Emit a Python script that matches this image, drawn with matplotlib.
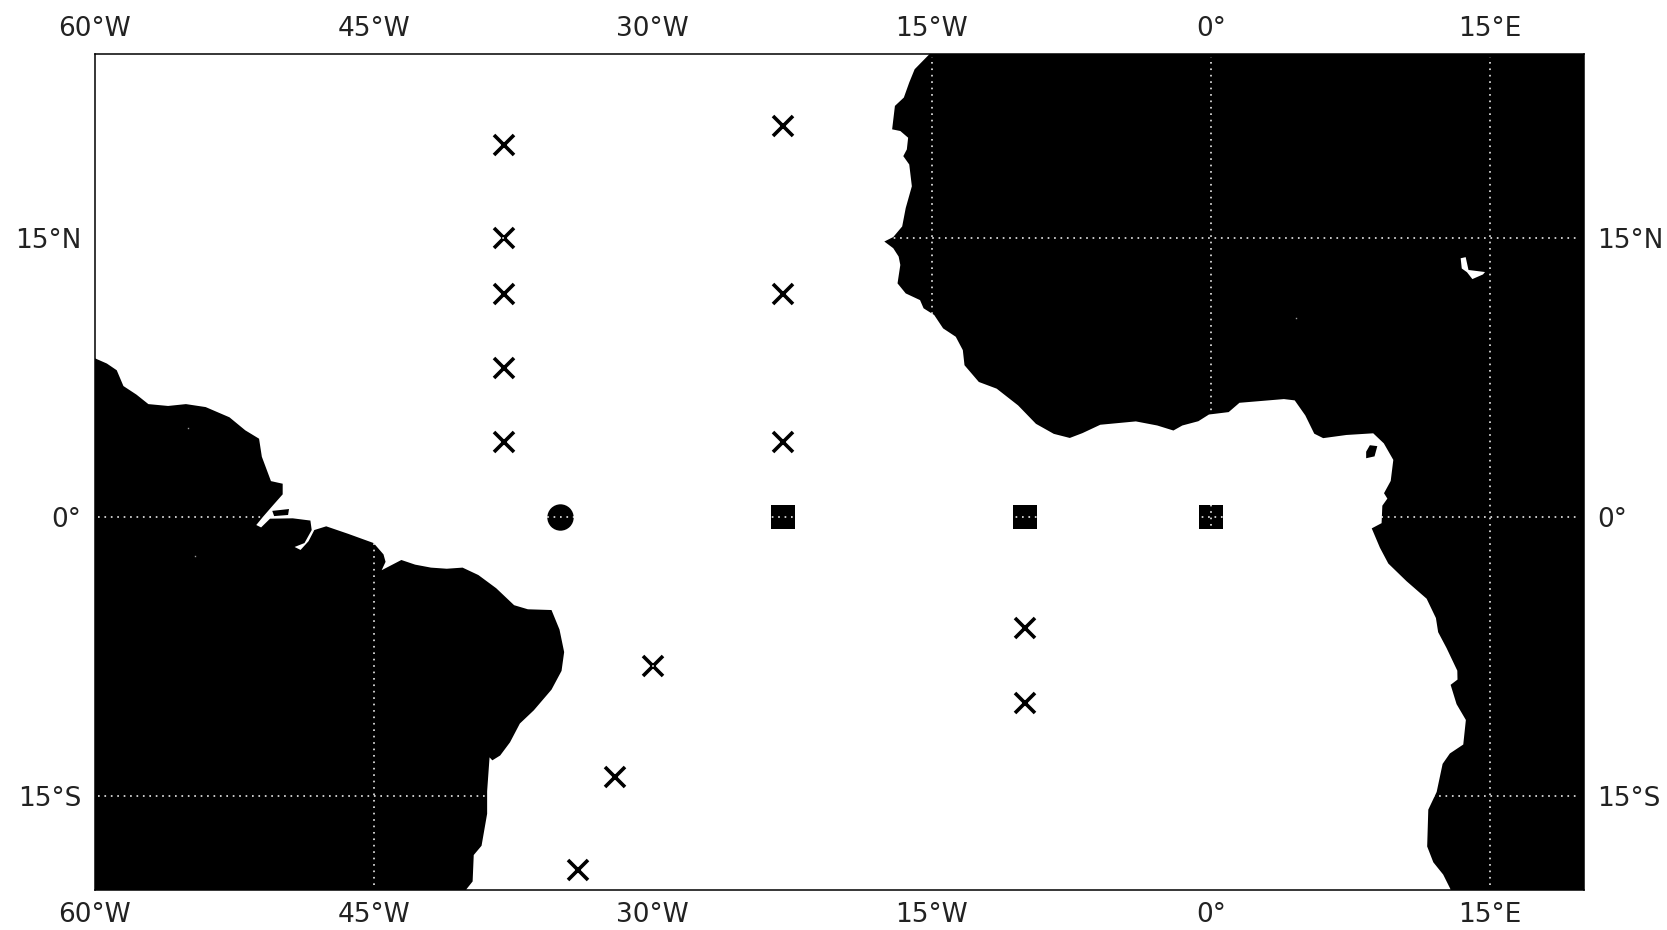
import matplotlib
matplotlib.use("Agg")
import matplotlib.pyplot as plt

# coastlines (lon, lat)
south_america = [
    (-60.5, 8.6), (-60, 8.53), (-59.34, 8.24), (-58.81, 7.88), (-58.45, 7.03), (-57.75, 6.57), (-57.11, 6.06),
    (-56.05, 5.96), (-55.09, 6.06), (-54.03, 5.90), (-52.75, 5.35), (-51.90, 4.65), (-51.16, 4.20),
    (-51.01, 3.23), (-50.52, 1.92), (-49.89, 1.78), (-49.89, 1.21), (-50.42, 0.61), (-50.95, 0.0),
    (-51.31, -0.44), (-51.05, -0.57), (-50.57, -0.10), (-49.35, -0.08), (-48.40, -0.20), (-48.33, -0.71),
    (-48.72, -1.41), (-49.25, -1.62), (-48.93, -1.78), (-48.50, -1.31), (-48.19, -0.71), (-47.55, -0.51),
    (-46.38, -0.91), (-45.00, -1.41), (-44.47, -2.02), (-44.36, -2.42), (-44.57, -2.87), (-43.51, -2.32),
    (-42.77, -2.57), (-41.92, -2.73), (-41.07, -2.79), (-40.22, -2.73), (-39.37, -3.13), (-38.41, -3.84),
    (-37.45, -4.75), (-36.71, -4.97), (-35.44, -5.01), (-35.01, -6.06), (-34.76, -7.27), (-34.90, -8.28),
    (-35.44, -9.29), (-36.39, -10.40), (-37.14, -11.11), (-37.67, -12.12), (-38.20, -12.83), (-38.62, -13.09),
    (-38.77, -12.93), (-38.90, -14.75), (-38.90, -15.96), (-39.20, -17.68), (-39.62, -18.18), (-39.68, -19.60),
    (-40.00, -20), (-40.2, -20.5), (-60.5, -20.5),
]
marajo = [(-50.45, 0.32), (-49.55, 0.42), (-49.60, 0.10), (-50.35, 0.04)]
africa = [
    (-15.0, 25), (-15.92, 24.06), (-16.21, 23.35), (-16.50, 22.54), (-16.98, 22.09), (-17.13, 20.83),
    (-16.69, 20.74), (-16.27, 20.38), (-16.34, 19.75), (-16.53, 19.39), (-16.21, 18.94), (-16.07, 17.77),
    (-16.40, 16.60), (-16.59, 15.61), (-17.07, 15.04), (-17.55, 14.80), (-17.07, 14.44), (-16.78, 13.99),
    (-16.69, 13.54), (-16.84, 12.55), (-16.40, 12.01), (-15.63, 11.65), (-15.44, 11.21), (-14.87, 10.85),
    (-14.39, 10.13), (-13.71, 9.68), (-13.33, 8.96), (-13.24, 8.15), (-12.47, 7.25), (-11.51, 6.89),
    (-10.36, 5.99), (-9.40, 5.00), (-8.44, 4.46), (-7.58, 4.24), (-6.90, 4.50), (-5.94, 4.95),
    (-4.03, 5.13), (-2.88, 4.91), (-2.01, 4.64), (-1.53, 4.91), (-0.67, 5.14), (-0.10, 5.50),
    (0.96, 5.63), (1.54, 6.13), (3.93, 6.33), (4.51, 6.26), (5.08, 5.45), (5.56, 4.47),
    (6.04, 4.23), (7.29, 4.40), (8.73, 4.49), (9.30, 3.95), (9.81, 3.06), (9.67, 1.93),
    (9.31, 1.27), (9.49, 0.98), (9.22, 0.60), (9.18, -0.34), (8.65, -0.62), (9.09, -1.66),
    (9.54, -2.51), (10.52, -3.46), (11.60, -4.40), (12.10, -5.44), (12.22, -6.20), (12.67, -7.05),
    (13.25, -8.27), (13.26, -8.75), (12.89, -9.03), (13.21, -10.07), (13.71, -10.92), (13.57, -12.24),
    (12.85, -12.72), (12.46, -13.28), (12.14, -14.79), (11.69, -15.74), (11.63, -17.72), (11.96, -18.57),
    (12.49, -19.23), (12.85, -19.95), (13.1, -20.5), (21, -20.5), (21, 25.5), (-15.0, 25.5),
]
bioko = [(8.55, 3.85), (8.95, 3.80), (8.80, 3.25), (8.35, 3.15), (8.35, 3.50)]
lake_chad = [(13.43, 13.90), (13.70, 13.96), (13.85, 13.27), (14.74, 13.16), (14.63, 13.03),
             (14.06, 12.78), (13.77, 13.15), (13.49, 13.35)]
speck_lon = [-55.0, -54.6, 4.6]
speck_lat = [4.8, -2.1, 10.7]

cross_lon = [-38, -38, -38, -38, -38, -23, -23, -23, -10, -10, -30, -32, -34]
cross_lat = [20, 15, 12, 8, 4, 21, 12, 4, -6, -10, -8, -14, -19]
square_lon = [-23, -10, 0]
square_lat = [0, 0, 0]
circle_lon = [-35]
circle_lat = [0]

lon_ticks = [-60, -45, -30, -15, 0, 15]
lon_labels = ["60°W", "45°W", "30°W", "15°W", "0°", "15°E"]
lat_ticks = [-15, 0, 15]
lat_labels = ["15°S", "0°", "15°N"]

fig = plt.figure(figsize=(16.67, 9.30), dpi=100)
ax = fig.add_axes([94.6 / 1667, 1 - 890 / 930, (1584 - 94.6) / 1667, (890 - 54) / 930])

for coast in [south_america, marajo, africa, bioko]:
    ax.fill(*zip(*coast), color="black", lw=0, zorder=1)
ax.fill(*zip(*lake_chad), color="white", lw=0, zorder=2)
ax.plot(speck_lon, speck_lat, "s", color="#999999", ms=1, mew=0, zorder=2)

ax.plot(cross_lon, cross_lat, "x", color="black", ms=15, mew=2.6, ls="none", zorder=3)
ax.plot(square_lon, square_lat, "s", color="black", ms=17, mew=0, ls="none", zorder=3)
ax.plot(circle_lon, circle_lat, "o", color="black", ms=19, mew=0, ls="none", zorder=3)

for lon in lon_ticks[1:]:
    ax.plot([lon, lon], [-19.8, 24.7], color="white", lw=1.1, ls=(0, (1.1, 3.1)), zorder=4)
for lat in lat_ticks:
    ax.plot([-59.8, 19.7], [lat, lat], color="white", lw=1.1, ls=(0, (1.1, 3.1)), zorder=4)

ax.set_xlim(-59.94, 20.06)
ax.set_ylim(-20.06, 24.88)
ax.set_xticks(lon_ticks, lon_labels)
ax.set_yticks(lat_ticks, lat_labels)
ax.tick_params(length=0, labelsize=19, labelcolor="#222222",
               top=True, right=True, labeltop=True, labelright=True)
ax.tick_params(axis="x", pad=8.5)
ax.tick_params(axis="y", pad=9.5)
for s in ax.spines.values():
    s.set_linewidth(1.1)

fig.savefig("out.png", dpi=100)
